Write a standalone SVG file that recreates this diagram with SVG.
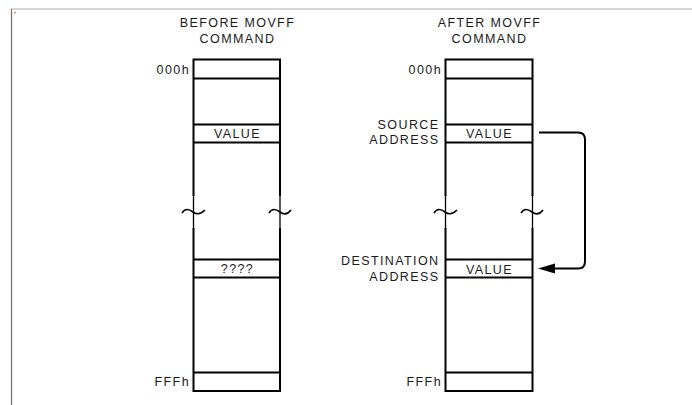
<svg xmlns="http://www.w3.org/2000/svg" width="692" height="405" viewBox="0 0 692 405">
<defs>
<style>
.t{font-family:"Liberation Sans",Arial,sans-serif;font-size:12.5px;fill:#1a1a1a;letter-spacing:1.4px}
.c{text-anchor:middle}
.r{text-anchor:end}
.ln{stroke:#000;stroke-width:2;fill:none}
.thin{stroke:#000;stroke-width:1.3;fill:none}
.tl{stroke:#000;stroke-width:1.6;fill:none}
</style>
</defs>
<rect width="692" height="405" fill="#fff"/>
<line x1="11" y1="9" x2="692" y2="9" stroke="#c8c8c8" stroke-width="1.5"/>
<line x1="11.5" y1="9" x2="11.5" y2="405" stroke="#6e6e6e" stroke-width="1.2"/>
<circle cx="15" cy="12.5" r="1" fill="#f08080"/>

<g id="before">
<text class="t c" x="237.5" y="27">BEFORE MOVFF</text>
<text class="t c" x="237.5" y="43">COMMAND</text>
<path class="ln" d="M193.5,196 V59.5 H280 V196"/>
<path class="thin" d="M193.5,195 V229 M280,195 V229"/>
<path class="ln" d="M193.5,228 V391 H280 V228"/>
<line class="ln" x1="193.5" y1="78.5" x2="280" y2="78.5"/>
<line class="ln" x1="193.5" y1="124.5" x2="280" y2="124.5"/>
<line class="ln" x1="193.5" y1="142.5" x2="280" y2="142.5"/>
<line class="ln" x1="193.5" y1="259.5" x2="280" y2="259.5"/>
<line class="ln" x1="193.5" y1="277.5" x2="280" y2="277.5"/>
<line class="ln" x1="193.5" y1="372.5" x2="280" y2="372.5"/>
<path class="tl" d="M182,213 C185,208 189,209 193,212 C197,215 201,214 205,210"/>
<path class="tl" d="M269,213 C272,208 276,209 280,212 C284,215 288,214 291,210"/>
<text class="t r" x="190" y="73.5">000h</text>
<text class="t c" x="237.5" y="137.5">VALUE</text>
<text class="t c" x="237.5" y="272.5">????</text>
<text class="t r" x="190" y="386">FFFh</text>
</g>

<g id="after">
<text class="t c" x="489.5" y="27">AFTER MOVFF</text>
<text class="t c" x="489.5" y="43">COMMAND</text>
<path class="ln" d="M445.5,196 V59.5 H532.5 V196"/>
<path class="thin" d="M445.5,195 V229 M532.5,195 V229"/>
<path class="ln" d="M445.5,228 V391 H532.5 V228"/>
<line class="ln" x1="445.5" y1="78.5" x2="532.5" y2="78.5"/>
<line class="ln" x1="445.5" y1="124.5" x2="532.5" y2="124.5"/>
<line class="ln" x1="445.5" y1="142.5" x2="532.5" y2="142.5"/>
<line class="ln" x1="445.5" y1="259.5" x2="532.5" y2="259.5"/>
<line class="ln" x1="445.5" y1="277.5" x2="532.5" y2="277.5"/>
<line class="ln" x1="445.5" y1="372.5" x2="532.5" y2="372.5"/>
<path class="tl" d="M434,213 C437,208 441,209 445,212 C449,215 453,214 457,210"/>
<path class="tl" d="M521,213 C524,208 528,209 532,212 C536,215 540,214 543,210"/>
<text class="t r" x="442" y="73.5">000h</text>
<text class="t c" x="489.5" y="137.5">VALUE</text>
<text class="t c" x="489.5" y="273.5">VALUE</text>
<text class="t r" x="442" y="386">FFFh</text>
<text class="t r" x="439.5" y="128.5">SOURCE</text>
<text class="t r" x="439.5" y="143.5">ADDRESS</text>
<text class="t r" x="439.5" y="264.5">DESTINATION</text>
<text class="t r" x="439.5" y="280.5">ADDRESS</text>
</g>

<g id="connectors">
<path class="ln" d="M539,132.5 H578 Q585,132.5 585,139.5 V261.5 Q585,268.5 578,268.5 H552"/>
<path d="M538,268.5 L555,263.5 L555,273.5 Z" fill="#000"/>
</g>
</svg>
